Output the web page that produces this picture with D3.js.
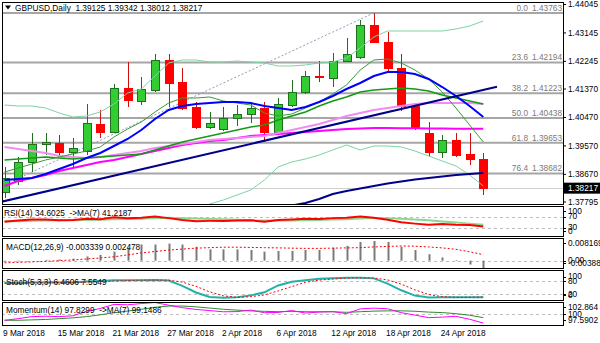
<!DOCTYPE html>
<html>
<head>
<meta charset="utf-8">
<script src="https://cdn.jsdelivr.net/npm/d3@7/dist/d3.min.js"></script>
<style>
html,body{margin:0;padding:0;background:#fff;overflow:hidden}
svg{display:block}
text{font-family:"Liberation Sans",Arial,sans-serif;font-size:8.3px}
</style>
</head>
<body>
<svg id="chart" width="600" height="343"></svg>
<script>
// ---------------- DATA ----------------
const symbolTitle = "GBPUSD,Daily";
const dates = ["2018-03-09","2018-03-12","2018-03-13","2018-03-14","2018-03-15","2018-03-16","2018-03-19","2018-03-20","2018-03-21","2018-03-22","2018-03-23","2018-03-26","2018-03-27","2018-03-28","2018-03-29","2018-03-30","2018-04-02","2018-04-03","2018-04-04","2018-04-05","2018-04-06","2018-04-09","2018-04-10","2018-04-11","2018-04-12","2018-04-13","2018-04-16","2018-04-17","2018-04-18","2018-04-19","2018-04-20","2018-04-23","2018-04-24","2018-04-25","2018-04-26","2018-04-27"];
const open  = [1.38101,1.38449,1.39050,1.39619,1.39650,1.39366,1.39397,1.40251,1.39998,1.41389,1.40978,1.41326,1.42275,1.41579,1.40789,1.40156,1.40093,1.40441,1.40567,1.40757,1.39998,1.40852,1.41263,1.41769,1.41705,1.42243,1.42369,1.43381,1.42844,1.42022,1.40820,1.39967,1.39366,1.39745,1.39303,1.39125];
const high  = [1.38892,1.39208,1.39967,1.39967,1.39903,1.39808,1.40883,1.40694,1.41516,1.42211,1.41737,1.42464,1.42464,1.42022,1.40947,1.40630,1.40789,1.40852,1.40947,1.40947,1.41073,1.41642,1.41927,1.42243,1.42496,1.42970,1.43539,1.43763,1.43160,1.42464,1.40915,1.40314,1.39903,1.39967,1.39967,1.39342];
const low   = [1.37911,1.38323,1.38734,1.39271,1.39208,1.38892,1.39271,1.39808,1.39967,1.40789,1.40852,1.41263,1.40789,1.40694,1.40093,1.40093,1.40030,1.40188,1.40283,1.39682,1.39935,1.40789,1.41200,1.41579,1.41421,1.42211,1.42306,1.42812,1.41927,1.40662,1.40061,1.39208,1.39176,1.39208,1.38955,1.38012];
const close = [1.38544,1.39050,1.39619,1.39682,1.39366,1.39492,1.40283,1.39998,1.41389,1.41010,1.41358,1.42275,1.41547,1.40757,1.40156,1.40283,1.40441,1.40567,1.40757,1.39998,1.40883,1.41263,1.41769,1.41737,1.42243,1.42464,1.43381,1.42844,1.42022,1.40820,1.40125,1.39366,1.39745,1.39271,1.39125,1.38217];

const ma10  = [1.38475,1.38507,1.38539,1.38665,1.38823,1.38982,1.39172,1.39330,1.39551,1.39773,1.40058,1.40406,1.40691,1.40817,1.40880,1.40912,1.40944,1.40944,1.40912,1.40817,1.40754,1.40691,1.40785,1.40944,1.41134,1.41355,1.41545,1.41766,1.41893,1.41893,1.41830,1.41672,1.41418,1.41134,1.40817,1.40469];
const ma20  = [1.39108,1.39140,1.39172,1.39203,1.39172,1.39140,1.39172,1.39203,1.39235,1.39266,1.39298,1.39425,1.39551,1.39678,1.39773,1.39868,1.39963,1.40058,1.40153,1.40216,1.40374,1.40501,1.40627,1.40817,1.40975,1.41102,1.41260,1.41323,1.41355,1.41387,1.41355,1.41292,1.41165,1.41070,1.40975,1.40880];
const ma8   = [1.38728,1.38855,1.38982,1.39108,1.39203,1.39298,1.39393,1.39520,1.39836,1.40089,1.40311,1.40627,1.40912,1.41070,1.41070,1.41102,1.40975,1.40912,1.40849,1.40596,1.40501,1.40564,1.40754,1.40944,1.41197,1.41482,1.41956,1.42273,1.42304,1.42178,1.41956,1.41672,1.41260,1.40754,1.40216,1.39678];
const ma30  = [1.39520,1.39456,1.39393,1.39330,1.39235,1.39203,1.39172,1.39203,1.39266,1.39330,1.39393,1.39488,1.39551,1.39615,1.39678,1.39741,1.39773,1.39804,1.39836,1.39868,1.39963,1.40058,1.40153,1.40247,1.40374,1.40501,1.40596,1.40691,1.40754,1.40817,1.40880,1.40912,1.40912,1.40912,1.40912,1.40880];
const ma55  = [1.38285,1.38444,1.38539,1.38634,1.38760,1.38855,1.38950,1.39045,1.39108,1.39203,1.39298,1.39393,1.39488,1.39583,1.39646,1.39709,1.39741,1.39804,1.39868,1.39899,1.39931,1.39963,1.39994,1.40026,1.40058,1.40089,1.40105,1.40121,1.40121,1.40115,1.40110,1.40105,1.40105,1.40100,1.40100,1.40095];
const ma200 = [null,null,null,null,null,null,null,null,null,null,null,null,null,null,null,null,null,null,1.37304,1.37431,1.37558,1.37668,1.37747,1.37874,1.38032,1.38127,1.38206,1.38285,1.38365,1.38428,1.38491,1.38539,1.38586,1.38634,1.38665,1.38697];
const bbUpper = [1.40849,1.40817,1.40817,1.40754,1.40596,1.40469,1.40501,1.40627,1.40880,1.41229,1.41355,1.41766,1.42178,1.42273,1.42273,1.42210,1.42210,1.42241,1.42210,1.42178,1.42083,1.42083,1.42115,1.42178,1.42210,1.42336,1.42653,1.43001,1.43191,1.43191,1.43191,1.43191,1.43191,1.43254,1.43349,1.43507];
const bbLower = [1.37463,1.37494,1.37526,1.37589,1.37621,1.37621,1.37621,1.37589,1.37494,1.37336,1.37209,1.37051,1.36956,1.37146,1.37399,1.37716,1.37842,1.38001,1.38159,1.38475,1.38887,1.39045,1.39140,1.39266,1.39425,1.39583,1.39425,1.39551,1.39551,1.39520,1.39393,1.39235,1.39077,1.38918,1.38634,1.38285];

const fibLevels = [0.0,23.6,38.2,50.0,61.8,76.4];
const fibPrices = [1.43763,1.42194,1.41223,1.40438,1.39653,1.38682];
const fibAnchorIdx = [-6,27];
const fibAnchorPrice = [1.37113,1.43763];
const trendIdx = [-0.2,36];
const trendPrice = [1.37790,1.41425];
const priceTicks = [1.44045,1.43145,1.42245,1.41370,1.40470,1.39570,1.38670,1.37795];

const rsi   = [52,56,60,60,57,58,63,61,68,65,66,71,65,58,54,55,55,56,57,52,58,60,63,62,65,66,71,66,59,50,45,41,44,41,40,34.6025];
const rsiMA = [54,54,55,56,57,57,58,59,61,62,63,65,66,65,64,62,61,59,57,56,56,56,57,58,60,61,64,65,65,63,60,57,53,49,45,41.2187];
const rsiTicks = [100,70,30,0];
const rsiLevels = [70,30];

const macdMain   = [-0.0004,-0.0003,0.0000,0.0003,0.0005,0.0008,0.00174,0.00241,0.00375,0.00536,0.0067,0.0067,0.0071,0.0067,0.00576,0.00469,0.00469,0.00469,0.00442,0.00375,0.00402,0.00402,0.00442,0.00442,0.00536,0.00616,0.00777,0.008169,0.00777,0.00576,0.00442,0.00268,0.00134,0.00027,-0.00161,-0.003339];
const macdSignal = [-0.0009,-0.0007,-0.0005,-0.0003,0.0000,0.0003,0.0007,0.0011,0.0016,0.0024,0.0032,0.0038,0.0044,0.0048,0.0052,0.0054,0.0056,0.0056,0.0055,0.0054,0.0053,0.0052,0.0051,0.0051,0.0052,0.0053,0.0054,0.0057,0.0059,0.0061,0.0060,0.0057,0.0053,0.0047,0.0037,0.002478];
const macdTicks = [0.008169,0,-0.003887];

const stochK = [72,70,73,74,73,73,78,80,83,84,84,85,82,58,28,8,4,7,15,29,60,77,84,90,93,95,95,92,68,38,14,5,7,6,6,6.4606];
const stochD = [70,71,72,72,73,73,75,77,80,82,84,84,84,75,56,31,13,6,9,17,35,55,74,84,89,93,94,94,85,66,40,19,9,6,6.5,7.5549];
const stochTicks = [100,80,20,0];
const stochLevels = [80,20];

const momentum   = [98.5,98.9,99.4,99.5,99.4,99.6,100.7,101.4,102.4,102.3,102.6,102.864,102.2,101.6,101.16,100.89,100.59,100.63,101.0,100.36,100.43,100.90,100.27,100.52,100.63,100.13,101.30,101.48,101.33,100.38,99.78,99.15,99.28,99.48,98.75,97.8299];
const momentumMA = [98.5,98.5,98.6,98.7,98.9,99.1,99.4,99.84,100.34,100.76,101.2,101.69,102.0,102.0,101.8,101.5,101.2,101.0,100.8,100.7,100.6,100.69,100.60,100.59,100.59,100.46,100.60,100.75,100.81,100.82,100.72,100.51,100.39,100.13,99.74,99.1486];
const momTicks = [102.864,100,97.5902];
const momLevels = [100];

// ---------------- DRAW ----------------
const svg = d3.select('#chart');
const L = 2, R = 563;
const panels = {main:{t:2,b:204}, rsi:{t:206,b:236}, macd:{t:238,b:268}, stoch:{t:270,b:300}, mom:{t:302,b:325}};
const n = dates.length;
const x = d3.scaleLinear().domain([0, n-1]).range([4.5, 483.3]);
const y = d3.scaleLinear().domain([priceTicks[priceTicks.length-1], priceTicks[0]]).range([201.5, 4]);
const yR = d3.scaleLinear().domain([0,100]).range([236,208.5]);
const yM = d3.scaleLinear().domain([macdTicks[2], macdTicks[0]]).range([270,241]);
const yS = d3.scaleLinear().domain([0,100]).range([298.7,276.6]);
const yMo = d3.scaleLinear().domain([momTicks[2], momTicks[0]]).range([324,302.5]);

const defs = svg.append('defs');
for (const [k,p] of Object.entries(panels)) {
  defs.append('clipPath').attr('id','cl-'+k).append('rect')
    .attr('x',L).attr('y',p.t).attr('width',R-L).attr('height',p.b-p.t);
}
const mkLine = (ys) => d3.line().defined(d => d != null).x((d,i) => x(i)).y(d => ys(d));

// ---- main panel ----
const gMain = svg.append('g').attr('clip-path','url(#cl-main)');
fibPrices.forEach(p => {
  gMain.append('line').attr('x1',L).attr('x2',R).attr('y1',y(p)).attr('y2',y(p))
    .attr('stroke','#A6A6A6').attr('stroke-width',2);
});
const lastClose = close[n-1];
gMain.append('line').attr('x1',L).attr('x2',R).attr('y1',Math.round(y(lastClose))+0.5).attr('y2',Math.round(y(lastClose))+0.5)
  .attr('stroke','#CFCFCF').attr('stroke-width',1);
gMain.append('line')
  .attr('x1',x(fibAnchorIdx[0])).attr('y1',y(fibAnchorPrice[0]))
  .attr('x2',x(fibAnchorIdx[1])).attr('y2',y(fibAnchorPrice[1]))
  .attr('stroke','#8E9CB6').attr('stroke-width',1).attr('stroke-dasharray','2,2');

// candles
const gC = gMain.append('g').attr('shape-rendering','crispEdges');
dates.forEach((d,i) => {
  const up = close[i] >= open[i];
  const cx = Math.round(x(i)) + 0.5;
  gC.append('line').attr('x1',cx).attr('x2',cx).attr('y1',y(high[i])).attr('y2',y(low[i]))
    .attr('stroke', up ? '#1F6F1F' : '#D01010').attr('stroke-width',1);
  const top = Math.round(y(Math.max(open[i],close[i]))) + 0.5;
  const bot = Math.round(y(Math.min(open[i],close[i]))) + 0.5;
  gC.append('rect').attr('x',cx-4).attr('y',top).attr('width',8).attr('height',Math.max(0.01,bot-top))
    .attr('fill', up ? '#33CC33' : '#FF0000').attr('stroke', up ? '#1F6F1F' : '#FF0000').attr('stroke-width',1);
});

// overlays
const ov = [
  [bbUpper,'#7DD3A3',1],
  [bbLower,'#7DD3A3',1],
  [ma200,'#00008B',2],
  [ma55,'#FF00FF',2],
  [ma30,'#F28CF2',2],
  [ma20,'#149A14',1.6],
  [ma8,'#3A9A3A',1],
  [ma10,'#0000FF',2]
];
ov.forEach(([arr,col,w]) => {
  gMain.append('path').attr('d', mkLine(y)(arr)).attr('fill','none').attr('stroke',col).attr('stroke-width',w);
});
gMain.append('line')
  .attr('x1',x(trendIdx[0])).attr('y1',y(trendPrice[0]))
  .attr('x2',x(trendIdx[1])).attr('y2',y(trendPrice[1]))
  .attr('stroke','#00008B').attr('stroke-width',2);

// fib labels
fibPrices.forEach((p,k) => {
  svg.append('text').attr('x',528).attr('y',y(p)-2).attr('text-anchor','end').attr('fill','#7A7A7A').text(fibLevels[k].toFixed(1));
  svg.append('text').attr('x',562).attr('y',y(p)-2).attr('text-anchor','end').attr('fill','#7A7A7A').text(p.toFixed(5));
});

// price axis
const gAx = svg.append('g').attr('transform',`translate(${R},0)`)
  .call(d3.axisRight(y).tickValues(priceTicks).tickSize(3).tickPadding(2).tickFormat(d3.format('.5f')));
gAx.select('.domain').remove();
gAx.selectAll('line').attr('stroke','#000');
gAx.selectAll('text').attr('fill','#000');

// current price box
svg.append('rect').attr('x',R).attr('y',y(lastClose)-5.5).attr('width',600-R).attr('height',11).attr('fill','#000');
svg.append('text').attr('x',R+5).attr('y',y(lastClose)).attr('dy','0.33em').attr('fill','#fff').text(lastClose.toFixed(5));

// title
svg.append('path').attr('d','M5,5.5 L11,5.5 L8,9.5 Z').attr('fill','#000');
svg.append('text').attr('x',15).attr('y',11).attr('fill','#000').style('white-space','pre')
  .text(`${symbolTitle}  ${open[n-1].toFixed(5)} ${high[n-1].toFixed(5)} ${low[n-1].toFixed(5)} ${close[n-1].toFixed(5)}`);

// ---- sub panels ----
function levelLines(g, vals, ys) {
  vals.forEach(v => {
    const yy = Math.round(ys(v)) + 0.5;
    g.append('line').attr('x1',L).attr('x2',R).attr('y1',yy).attr('y2',yy)
      .attr('stroke','#BDBDBD').attr('stroke-width',1).attr('stroke-dasharray','3,3');
  });
}
function rightLabels(ticks, ys, p, fmt) {
  ticks.forEach(v => {
    const yy = Math.max(p.t+5, Math.min(p.b-5, ys(v)));
    svg.append('line').attr('x1',R).attr('x2',R+3).attr('y1',Math.round(yy)+0.5).attr('y2',Math.round(yy)+0.5).attr('stroke','#000');
    svg.append('text').attr('x',R+5).attr('y',yy).attr('dy','0.33em').attr('fill','#000').text(fmt(v));
  });
}

// RSI
const gR = svg.append('g').attr('clip-path','url(#cl-rsi)');
levelLines(gR, rsiLevels, yR);
gR.append('path').attr('d',mkLine(yR)(rsiMA)).attr('fill','none').attr('stroke','#8ED68E').attr('stroke-width',2);
gR.append('path').attr('d',mkLine(yR)(rsi)).attr('fill','none').attr('stroke','#FF0000').attr('stroke-width',2);
svg.append('text').attr('x',4).attr('y',216).attr('fill','#000').style('white-space','pre')
  .text(`RSI(14) ${rsi[n-1].toFixed(4)}  ->MA(7) ${rsiMA[n-1].toFixed(4)}`);
rightLabels(rsiTicks, yR, panels.rsi, d => String(d));

// MACD
const gM = svg.append('g').attr('clip-path','url(#cl-macd)');
levelLines(gM, [0], yM);
macdMain.forEach((v,i) => {
  const cx = Math.round(x(i)) + 0.5;
  gM.append('line').attr('x1',cx).attr('x2',cx).attr('y1',yM(0)).attr('y2',yM(v))
    .attr('stroke','#7A7A7A').attr('stroke-width',2);
});
gM.append('path').attr('d',mkLine(yM)(macdSignal)).attr('fill','none').attr('stroke','#FF0000').attr('stroke-width',1).attr('stroke-dasharray','2,2');
svg.append('text').attr('x',6).attr('y',250).attr('fill','#000')
  .text(`MACD(12,26,9) ${macdMain[n-1].toFixed(6)} ${macdSignal[n-1].toFixed(6)}`);
rightLabels(macdTicks, yM, panels.macd, d => d === 0 ? '0.00' : d.toFixed(6));

// Stochastic
const gS = svg.append('g').attr('clip-path','url(#cl-stoch)');
levelLines(gS, stochLevels, yS);
gS.append('path').attr('d',mkLine(yS)(stochK)).attr('fill','none').attr('stroke','#20B2AA').attr('stroke-width',2);
gS.append('path').attr('d',mkLine(yS)(stochD)).attr('fill','none').attr('stroke','#FF0000').attr('stroke-width',1).attr('stroke-dasharray','2,2');
svg.append('text').attr('x',6).attr('y',285).attr('fill','#000')
  .text(`Stoch(5,3,3) ${stochK[n-1].toFixed(4)} ${stochD[n-1].toFixed(4)}`);
rightLabels(stochTicks, yS, panels.stoch, d => String(d));

// Momentum
const gMo = svg.append('g').attr('clip-path','url(#cl-mom)');
levelLines(gMo, momLevels, yMo);
gMo.append('path').attr('d',mkLine(yMo)(momentumMA)).attr('fill','none').attr('stroke','#2E8B2E').attr('stroke-width',1);
gMo.append('path').attr('d',mkLine(yMo)(momentum)).attr('fill','none').attr('stroke','#FF00FF').attr('stroke-width',1);
svg.append('text').attr('x',6).attr('y',312.5).attr('fill','#000').style('white-space','pre')
  .text(`Momentum(14) ${momentum[n-1].toFixed(4)}  ->MA(7) ${momentumMA[n-1].toFixed(4)}`);
rightLabels(momTicks, yMo, panels.mom, d => String(d));

// panel frames
for (const p of Object.values(panels)) {
  svg.append('rect').attr('x',L+0.5).attr('y',p.t+0.5).attr('width',R-L).attr('height',p.b-p.t)
    .attr('fill','none').attr('stroke','#000').attr('stroke-width',1);
}

// date axis
const parse = d3.timeParse('%Y-%m-%d');
const fmtDate = d3.timeFormat('%-d %b %Y');
const dateTickIdx = d3.range(0, n, 4);
const gX = svg.append('g').attr('transform',`translate(0,${panels.mom.b})`)
  .call(d3.axisBottom(x).tickValues(dateTickIdx).tickSize(0).tickPadding(5).tickFormat(i => fmtDate(parse(dates[i]))));
gX.select('.domain').remove();
gX.selectAll('text').attr('text-anchor','start').attr('x',-2).attr('fill','#000');
</script>
</body>
</html>
